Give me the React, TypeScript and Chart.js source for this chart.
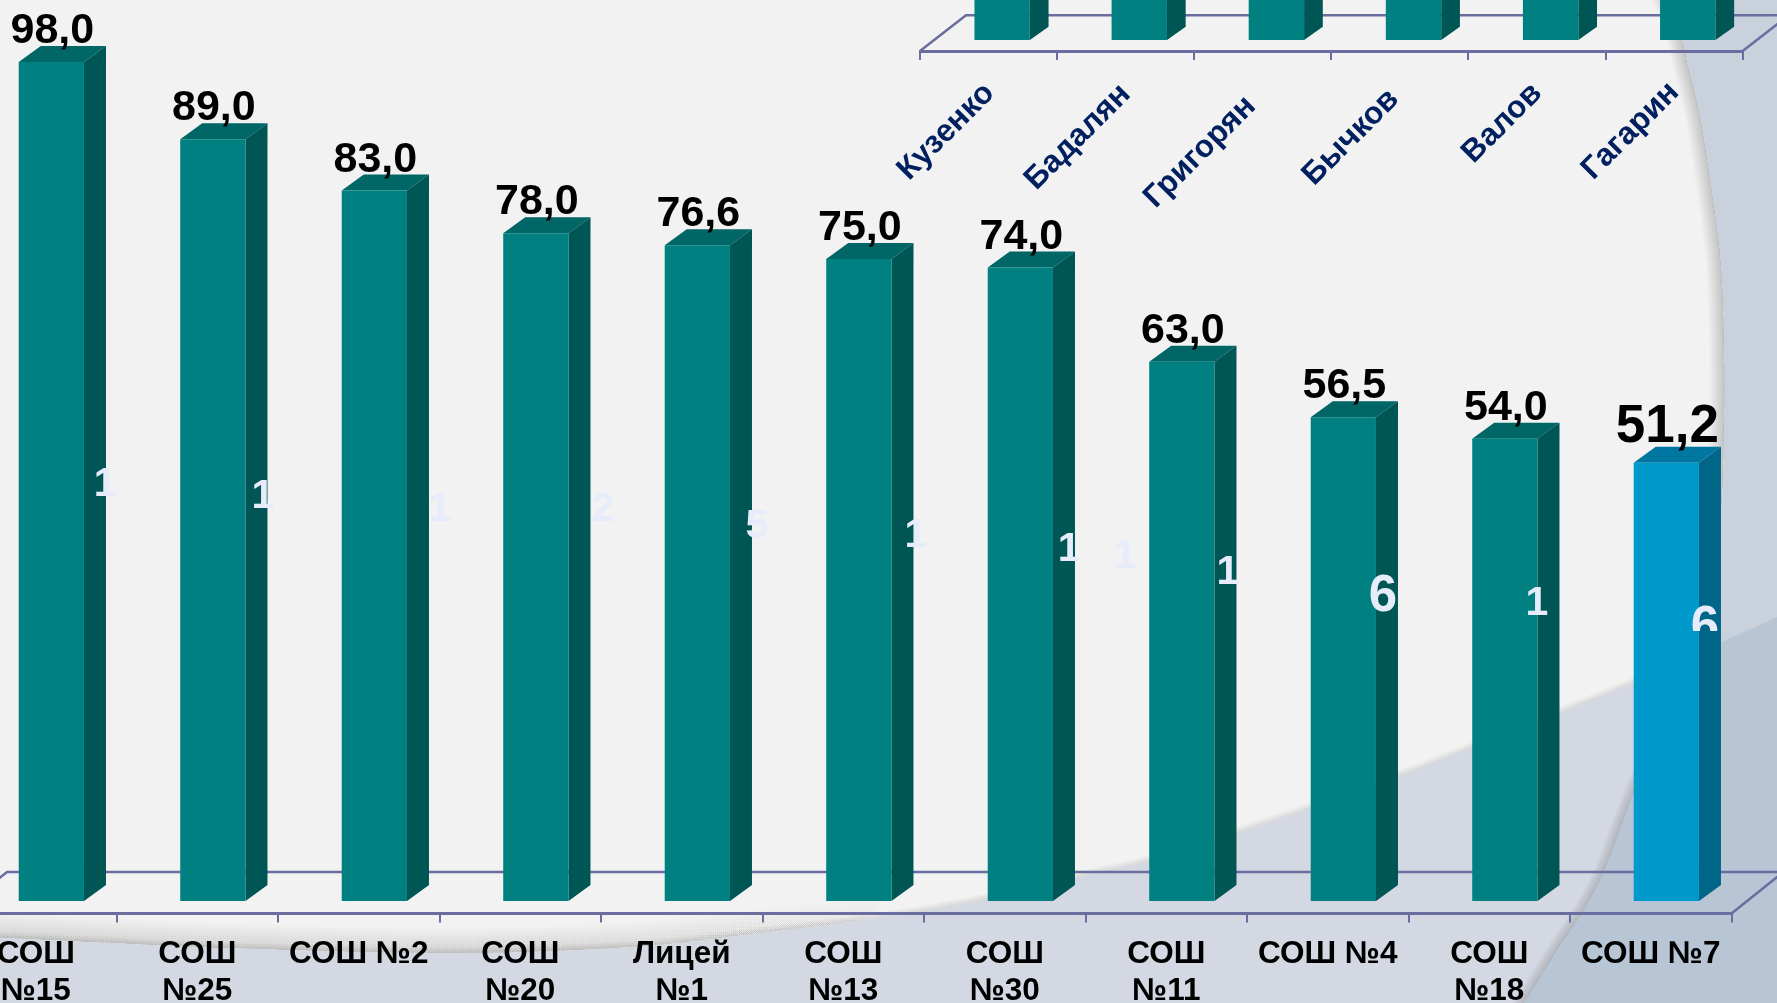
import React, { useEffect, useRef } from "react";
import { Chart, registerables } from "chart.js";

Chart.register(...registerables);

const schools: (string | string[])[] = [
  ["СОШ", "№15"], ["СОШ", "№25"], "СОШ №2", ["СОШ", "№20"], ["Лицей", "№1"], ["СОШ", "№13"],
  ["СОШ", "№30"], ["СОШ", "№11"], "СОШ №4", ["СОШ", "№18"], "СОШ №7",
];
const scores = [98.0, 89.0, 83.0, 78.0, 76.6, 75.0, 74.0, 63.0, 56.5, 54.0, 51.2];
const scoreLabels = ["98,0", "89,0", "83,0", "78,0", "76,6", "75,0", "74,0", "63,0", "56,5", "54,0", "51,2"];

const digitLabels = ["1", "1", "1", "2", "5", "1", "1", "1", "1", "6", "1", "6"];
const digitX = [0.429, 1.407, 2.503, 3.512, 4.466, 5.45, 6.398, 6.745, 7.382, 8.342, 9.295, 10.335];
const digitY = [48.8, 47.4, 45.9, 45.9, 43.9, 42.8, 41.2, 40.4, 38.5, 35.3, 34.9, 31.7];

const names = ["Кузенко", "Бадалян", "Григорян", "Бычков", "Валов", "Гагарин"];
const nameValues = [90, 85, 80, 75, 70, 65];
const nameNudges = [[1, -5], [0, -4], [-12, 8], [-6, 1], [0, -5], [0, -6]];

const FONT = '"Liberation Sans", Arial, sans-serif';
const AXIS = "#6A6D9F";
const TEAL = { front: "#008080", side: "#005555", top: "#006666" };
const BLUE = { front: "#0099CC", side: "#006688", top: "#0077A0" };

type P = [number, number];
const vertical: P[] = [[1650, -30], [1668, 0], [1682, 40], [1688, 67], [1700, 117], [1713, 200], [1721, 267], [1724, 350], [1724, 420], [1720, 520], [1703, 620], [1672, 710], [1634, 792], [1605, 869], [1583, 911], [1557, 950], [1524, 1003], [1495, 1040]];
const diagonal: P[] = [[-30, 936], [115, 943], [230, 948], [448, 953], [631, 947], [760, 933], [880, 918], [988, 899], [1097, 873], [1150, 861], [1237, 833], [1312, 808], [1398, 777], [1472, 748], [1560, 713], [1634, 683], [1722, 642], [1777, 617], [1810, 600]];

function trace(ctx: CanvasRenderingContext2D, pts: P[], move = true) {
  if (move) ctx.moveTo(pts[0][0], pts[0][1]);
  else ctx.lineTo(pts[0][0], pts[0][1]);
  for (let i = 0; i < pts.length - 1; i++) {
    const p0 = pts[Math.max(i - 1, 0)], p1 = pts[i], p2 = pts[i + 1], p3 = pts[Math.min(i + 2, pts.length - 1)];
    ctx.bezierCurveTo(p1[0] + (p2[0] - p0[0]) / 6, p1[1] + (p2[1] - p0[1]) / 6, p2[0] - (p3[0] - p1[0]) / 6, p2[1] - (p3[1] - p1[1]) / 6, p2[0], p2[1]);
  }
}

function paintBackground(ctx: CanvasRenderingContext2D) {
  const W = 1777, H = 1003;
  const clipLeft = () => {
    ctx.beginPath(); ctx.moveTo(-60, -60); trace(ctx, vertical, false); ctx.lineTo(-60, 1060); ctx.closePath(); ctx.clip();
  };
  const clipAbove = () => {
    ctx.beginPath(); ctx.moveTo(-60, -60); ctx.lineTo(1840, -60); ctx.lineTo(1840, 600); trace(ctx, [...diagonal].reverse(), false); ctx.lineTo(-60, 936); ctx.closePath(); ctx.clip();
  };
  const strokeShadow = (pts: P[], maxW: number, style: string | CanvasGradient) => {
    ctx.lineCap = "butt";
    ctx.lineJoin = "round";
    for (let w = 2; w <= maxW; w += 2) {
      ctx.beginPath(); trace(ctx, pts); ctx.strokeStyle = style; ctx.lineWidth = w; ctx.stroke();
    }
  };
  ctx.save();
  ctx.fillStyle = "#C9D2DC"; ctx.fillRect(-60, 0, W + 120, H);
  ctx.save();
  ctx.beginPath(); trace(ctx, diagonal); ctx.lineTo(1840, 1060); ctx.lineTo(-60, 1060); ctx.closePath();
  ctx.fillStyle = "#B8C5D5"; ctx.fill();
  ctx.restore();
  ctx.save();
  clipLeft();
  ctx.fillStyle = "#D4D8E2"; ctx.fillRect(-60, 0, W + 120, H);
  strokeShadow(vertical, 20, "rgba(70,70,60,0.018)");
  clipAbove();
  ctx.fillStyle = "#F2F2F2"; ctx.fillRect(-60, 0, W + 120, H);
  strokeShadow(vertical, 30, "rgba(70,70,60,0.016)");
  strokeShadow(diagonal, 12, "rgba(70,70,60,0.02)");
  const g = ctx.createLinearGradient(0, 0, 1000, 0);
  g.addColorStop(0, "rgba(70,70,60,0.007)");
  g.addColorStop(0.55, "rgba(70,70,60,0.007)");
  g.addColorStop(1, "rgba(70,70,60,0)");
  strokeShadow(diagonal, 50, g);
  ctx.restore();
  ctx.restore();
}

function box3d(opts: { tx: number; ty: number; dx: number; dy: number; fx: number; fy: number; main?: boolean }) {
  return {
    id: "box3d",
    beforeDraw(chart: any) {
      if (opts.main) return;
      const items = chart.scales.x.getLabelItems(chart.chartArea);
      items.forEach((it: any, i: number) => {
        const t = it.options.translation;
        it.options.translation = [t[0] + nameNudges[i][0], t[1] + nameNudges[i][1]];
      });
    },
    beforeDatasetsDraw(chart: any) {
      const { ctx, chartArea: a } = chart;
      ctx.save();
      // back edge of the floor and its two side edges
      ctx.beginPath();
      ctx.moveTo(a.left, a.bottom); ctx.lineTo(a.left + opts.fx, a.bottom - opts.fy);
      ctx.lineTo(a.right + opts.fx, a.bottom - opts.fy); ctx.lineTo(a.right, a.bottom);
      ctx.strokeStyle = AXIS; ctx.lineWidth = 2.5; ctx.stroke();
      ctx.restore();
      ctx.save();
      ctx.translate(opts.tx, -opts.ty);
      const meta = chart.getDatasetMeta(0);
      meta.data.forEach((b: any, i: number) => {
        const l = b.x - b.width / 2, r = b.x + b.width / 2;
        const c = i === 10 && opts.main ? BLUE : TEAL;
        ctx.fillStyle = c.top;
        ctx.beginPath(); ctx.moveTo(l, b.y); ctx.lineTo(l + opts.dx, b.y - opts.dy); ctx.lineTo(r + opts.dx, b.y - opts.dy); ctx.lineTo(r, b.y); ctx.closePath(); ctx.fill();
        ctx.fillStyle = c.side;
        ctx.beginPath(); ctx.moveTo(r, b.y); ctx.lineTo(r + opts.dx, b.y - opts.dy); ctx.lineTo(r + opts.dx, b.base - opts.dy); ctx.lineTo(r, b.base); ctx.closePath(); ctx.fill();
      });
    },
    afterDatasetsDraw(chart: any) {
      const { ctx } = chart;
      ctx.restore();
      if (!opts.main) return;
      ctx.save();
      ctx.textAlign = "center";
      ctx.textBaseline = "alphabetic";
      ctx.fillStyle = "#000";
      chart.getDatasetMeta(0).data.forEach((b: any, i: number) => {
        const last = i === scores.length - 1;
        ctx.font = `bold ${last ? 53 : 43}px ${FONT}`;
        ctx.fillText(scoreLabels[i], b.x + opts.tx + 1, b.y - opts.ty - (last ? 21 : 19));
      });
      ctx.restore();
    },
  };
}

const digitPlugin = {
  id: "digits",
  afterDatasetsDraw(chart: any) {
    const { ctx } = chart;
    const yScale = chart.scales.y;
    ctx.save();
    ctx.textAlign = "center";
    ctx.textBaseline = "alphabetic";
    ctx.fillStyle = "#E6ECFA";
    chart.getDatasetMeta(0).data.forEach((p: any, i: number) => {
      ctx.save();
      if (i === 11) { ctx.beginPath(); ctx.rect(0, 0, 4000, yScale.getPixelForValue(33)); ctx.clip(); }
      ctx.font = `bold ${digitLabels[i] === "6" ? 51 : 41}px ${FONT}`;
      ctx.fillText(digitLabels[i], p.x, p.y);
      ctx.restore();
    });
    ctx.restore();
  },
};

export default function App() {
  const mainRef = useRef<HTMLCanvasElement>(null);
  const topRef = useRef<HTMLCanvasElement>(null);
  const digitRef = useRef<HTMLCanvasElement>(null);

  useEffect(() => {
    const main = new Chart(mainRef.current!, {
      type: "bar",
      data: {
        labels: schools as any,
        datasets: [
          {
            data: scores,
            backgroundColor: scores.map((_, i) => (i === 10 ? BLUE.front : TEAL.front)),
            borderWidth: 0,
            barPercentage: 0.404,
            categoryPercentage: 1,
            clip: false,
          } as any,
        ],
      },
      options: {
        responsive: false,
        animation: false,
        events: [],
        layout: { padding: { top: 14.7, left: 0, right: 45.5, bottom: 0 } },
        plugins: { legend: { display: false }, tooltip: { enabled: false }, title: { display: false } },
        scales: {
          x: {
            type: "category",
            offset: true,
            afterFit(s: any) { s.height = 89.5; s.paddingLeft = 0; s.paddingRight = 0; },
            grid: { offset: true, drawOnChartArea: false, drawTicks: true, tickLength: 9, color: AXIS, lineWidth: 2 },
            border: { color: AXIS, width: 3 },
            ticks: {
              autoSkip: false, maxRotation: 0, minRotation: 0, color: "#000", padding: 14,
              font: { family: FONT, weight: "bold", size: 31.5, lineHeight: 1.16 },
            },
          },
          y: { display: false, min: 0, max: 105 },
        },
      } as any,
      plugins: [
        { id: "bg", beforeDraw(chart: any) { const c = chart.ctx; c.save(); c.translate(45, 0); paintBackground(c); c.restore(); } },
        box3d({ tx: 15.6, ty: 12.5, dx: 22, dy: 16, fx: 52, fy: 41.5, main: true }),
      ] as any,
    });

    const digits = new Chart(digitRef.current!, {
      type: "scatter",
      data: {
        datasets: [
          { data: digitX.map((x, i) => ({ x, y: digitY[i] })), pointRadius: 0, clip: false } as any,
        ],
      },
      options: {
        responsive: false,
        animation: false,
        events: [],
        layout: { padding: { top: 14.7, left: 0, right: 45.5, bottom: 89.5 } },
        plugins: { legend: { display: false }, tooltip: { enabled: false }, title: { display: false } },
        scales: {
          x: { type: "linear", display: false, min: -0.5, max: 10.5 },
          y: { type: "linear", display: false, min: 0, max: 105 },
        },
      } as any,
      plugins: [digitPlugin] as any,
    });

    const top = new Chart(topRef.current!, {
      type: "bar",
      data: {
        labels: names,
        datasets: [
          {
            data: nameValues,
            backgroundColor: TEAL.front,
            borderWidth: 0,
            barPercentage: 0.404,
            categoryPercentage: 1,
            clip: false,
          } as any,
        ],
      },
      options: {
        responsive: false,
        animation: false,
        events: [],
        layout: { padding: { top: 0, left: 120, right: 34.3, bottom: 0 } },
        plugins: { legend: { display: false }, tooltip: { enabled: false }, title: { display: false } },
        scales: {
          x: {
            type: "category",
            offset: true,
            afterFit(s: any) { s.height = 249; s.paddingLeft = 0; s.paddingRight = 0; },
            grid: { offset: true, drawOnChartArea: false, drawTicks: true, tickLength: 9, color: AXIS, lineWidth: 2 },
            border: { color: AXIS, width: 3 },
            ticks: {
              autoSkip: false, maxRotation: 45, minRotation: 45, color: "#002060", padding: 20,
              font: { family: FONT, weight: "bold", size: 31.5 },
            },
          },
          y: { display: false, min: 0, max: 100 },
        },
      } as any,
      plugins: [box3d({ tx: 13.6, ty: 11, dx: 18.7, dy: 13.3, fx: 46, fy: 35.7 })] as any,
    });

    return () => { main.destroy(); top.destroy(); digits.destroy(); };
  }, []);

  return (
    <div style={{ position: "fixed", left: 0, top: 0, width: 1777, height: 1003, overflow: "hidden", background: "#F2F2F2" }}>
      <canvas ref={mainRef} width={1822} height={1003} style={{ position: "absolute", left: -45, top: 0, display: "block" }} />
      <canvas ref={digitRef} width={1822} height={1003} style={{ position: "absolute", left: -45, top: 0, display: "block" }} />
      <canvas ref={topRef} width={977} height={600} style={{ position: "absolute", left: 800, top: -300, display: "block" }} />
    </div>
  );
}
